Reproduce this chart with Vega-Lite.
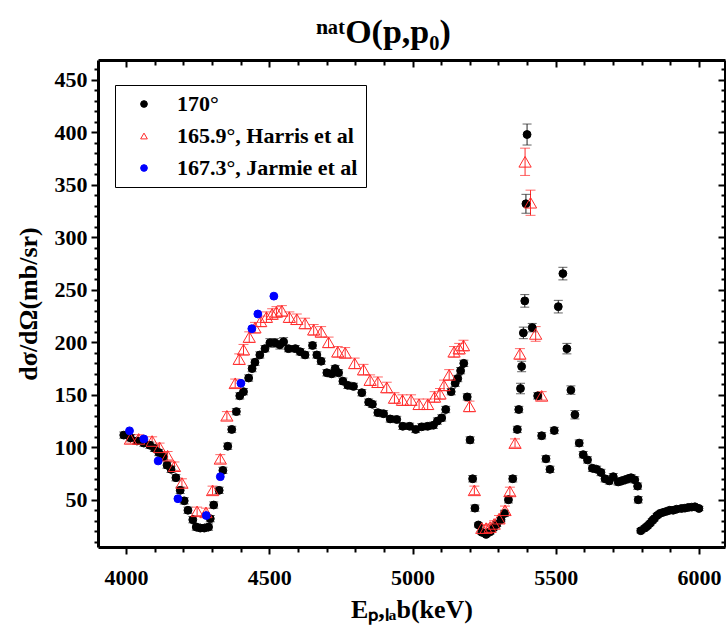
{
  "$schema": "https://vega.github.io/schema/vega-lite/v6.json",
  "width": 627,
  "height": 487,
  "padding": {"left": 15, "top": 16, "right": 2, "bottom": 10},
  "background": "white",
  "title": {"text": "ⁿᵃᵗO(p,p₀)", "font": "Liberation Serif", "fontSize": 34, "fontWeight": "bold", "color": "black", "anchor": "middle", "offset": 8, "dx": -28},
  "data": {"values": [
    {"s":"170°","E":3992,"sig":111.6,"err":3},
    {"s":"170°","E":4015,"sig":109,"err":3},
    {"s":"170°","E":4038,"sig":106,"err":3},
    {"s":"170°","E":4062,"sig":104,"err":3},
    {"s":"170°","E":4083,"sig":102,"err":3},
    {"s":"170°","E":4099,"sig":99,"err":3},
    {"s":"170°","E":4114,"sig":95,"err":3},
    {"s":"170°","E":4129,"sig":91,"err":3},
    {"s":"170°","E":4143,"sig":83,"err":3},
    {"s":"170°","E":4157,"sig":79,"err":3},
    {"s":"170°","E":4174,"sig":71,"err":3},
    {"s":"170°","E":4189,"sig":59,"err":3},
    {"s":"170°","E":4203,"sig":49,"err":3},
    {"s":"170°","E":4216,"sig":40,"err":3},
    {"s":"170°","E":4233,"sig":31,"err":3},
    {"s":"170°","E":4245,"sig":24,"err":3},
    {"s":"170°","E":4259,"sig":23,"err":3},
    {"s":"170°","E":4273,"sig":23,"err":3},
    {"s":"170°","E":4288,"sig":24,"err":3},
    {"s":"170°","E":4294,"sig":32,"err":3},
    {"s":"170°","E":4306,"sig":45,"err":3},
    {"s":"170°","E":4325,"sig":59,"err":3},
    {"s":"170°","E":4338,"sig":78,"err":3},
    {"s":"170°","E":4355,"sig":101,"err":3},
    {"s":"170°","E":4369,"sig":117,"err":3},
    {"s":"170°","E":4385,"sig":134,"err":3},
    {"s":"170°","E":4397,"sig":149,"err":3},
    {"s":"170°","E":4410,"sig":153,"err":3},
    {"s":"170°","E":4428,"sig":166,"err":3},
    {"s":"170°","E":4440,"sig":175,"err":3},
    {"s":"170°","E":4450,"sig":181,"err":3},
    {"s":"170°","E":4467,"sig":188,"err":3},
    {"s":"170°","E":4485,"sig":194,"err":3},
    {"s":"170°","E":4502,"sig":199.5,"err":4},
    {"s":"170°","E":4520,"sig":199.5,"err":4},
    {"s":"170°","E":4537,"sig":197.6,"err":4},
    {"s":"170°","E":4550,"sig":200.5,"err":4},
    {"s":"170°","E":4567,"sig":194,"err":3},
    {"s":"170°","E":4591,"sig":194,"err":3},
    {"s":"170°","E":4608,"sig":191,"err":3},
    {"s":"170°","E":4625,"sig":188,"err":3},
    {"s":"170°","E":4651,"sig":197,"err":3},
    {"s":"170°","E":4666,"sig":188,"err":3},
    {"s":"170°","E":4681,"sig":182,"err":3},
    {"s":"170°","E":4701,"sig":171,"err":3},
    {"s":"170°","E":4718,"sig":170,"err":3},
    {"s":"170°","E":4730,"sig":175,"err":3},
    {"s":"170°","E":4742,"sig":171,"err":3},
    {"s":"170°","E":4757,"sig":163,"err":3},
    {"s":"170°","E":4774,"sig":159,"err":3},
    {"s":"170°","E":4794,"sig":158,"err":3},
    {"s":"170°","E":4823,"sig":152,"err":3},
    {"s":"170°","E":4847,"sig":143,"err":3},
    {"s":"170°","E":4860,"sig":141,"err":3},
    {"s":"170°","E":4879,"sig":133,"err":3},
    {"s":"170°","E":4899,"sig":132,"err":3},
    {"s":"170°","E":4922,"sig":127,"err":3},
    {"s":"170°","E":4945,"sig":126.5,"err":3},
    {"s":"170°","E":4966,"sig":120,"err":3},
    {"s":"170°","E":4990,"sig":120,"err":3},
    {"s":"170°","E":5011,"sig":117,"err":3},
    {"s":"170°","E":5032,"sig":119.5,"err":3},
    {"s":"170°","E":5053,"sig":120,"err":3},
    {"s":"170°","E":5073,"sig":121,"err":3},
    {"s":"170°","E":5087,"sig":125,"err":3},
    {"s":"170°","E":5102,"sig":128,"err":3},
    {"s":"170°","E":5116,"sig":136,"err":3},
    {"s":"170°","E":5135,"sig":153,"err":3},
    {"s":"170°","E":5149,"sig":161,"err":3},
    {"s":"170°","E":5158,"sig":165.5,"err":3},
    {"s":"170°","E":5168,"sig":173,"err":3},
    {"s":"170°","E":5179,"sig":180,"err":3},
    {"s":"170°","E":5191,"sig":148,"err":3},
    {"s":"170°","E":5201,"sig":107,"err":3},
    {"s":"170°","E":5210,"sig":70,"err":3},
    {"s":"170°","E":5218,"sig":42,"err":3},
    {"s":"170°","E":5230,"sig":26,"err":2},
    {"s":"170°","E":5242,"sig":19,"err":2},
    {"s":"170°","E":5257,"sig":17,"err":2},
    {"s":"170°","E":5271,"sig":19.5,"err":2},
    {"s":"170°","E":5282,"sig":23,"err":2},
    {"s":"170°","E":5294,"sig":26.5,"err":2},
    {"s":"170°","E":5309,"sig":31,"err":2},
    {"s":"170°","E":5321,"sig":37,"err":3},
    {"s":"170°","E":5335,"sig":50,"err":3},
    {"s":"170°","E":5350,"sig":70,"err":3},
    {"s":"170°","E":5366,"sig":117,"err":3},
    {"s":"170°","E":5371,"sig":136,"err":3},
    {"s":"170°","E":5377,"sig":156,"err":5},
    {"s":"170°","E":5381,"sig":177,"err":5},
    {"s":"170°","E":5387,"sig":209,"err":5.5},
    {"s":"170°","E":5392,"sig":239.5,"err":6},
    {"s":"170°","E":5396,"sig":332,"err":9},
    {"s":"170°","E":5400,"sig":398,"err":10},
    {"s":"170°","E":5418,"sig":214,"err":4},
    {"s":"170°","E":5437,"sig":149,"err":3},
    {"s":"170°","E":5451,"sig":111,"err":3},
    {"s":"170°","E":5466,"sig":89,"err":3},
    {"s":"170°","E":5480,"sig":79,"err":3},
    {"s":"170°","E":5495,"sig":116,"err":3},
    {"s":"170°","E":5509,"sig":234,"err":6},
    {"s":"170°","E":5525,"sig":265.5,"err":6},
    {"s":"170°","E":5539,"sig":194,"err":5},
    {"s":"170°","E":5553,"sig":154.5,"err":4},
    {"s":"170°","E":5567,"sig":131,"err":4},
    {"s":"170°","E":5582,"sig":104,"err":3},
    {"s":"170°","E":5596,"sig":93,"err":3},
    {"s":"170°","E":5611,"sig":88,"err":3},
    {"s":"170°","E":5628,"sig":80,"err":3},
    {"s":"170°","E":5643,"sig":79,"err":3},
    {"s":"170°","E":5658,"sig":76,"err":3},
    {"s":"170°","E":5672,"sig":70,"err":3},
    {"s":"170°","E":5687,"sig":68,"err":3},
    {"s":"170°","E":5701,"sig":72,"err":3},
    {"s":"170°","E":5718,"sig":67,"err":3},
    {"s":"170°","E":5730,"sig":68,"err":3},
    {"s":"170°","E":5742,"sig":69,"err":3},
    {"s":"170°","E":5753,"sig":70,"err":3},
    {"s":"170°","E":5763,"sig":71,"err":3},
    {"s":"170°","E":5776,"sig":69,"err":3},
    {"s":"170°","E":5786,"sig":63,"err":3},
    {"s":"170°","E":5788,"sig":50,"err":3},
    {"s":"170°","E":5797,"sig":20.5,"err":2},
    {"s":"170°","E":5811,"sig":23,"err":2},
    {"s":"170°","E":5820,"sig":25,"err":2},
    {"s":"170°","E":5829,"sig":27.4,"err":2},
    {"s":"170°","E":5837,"sig":30,"err":2},
    {"s":"170°","E":5844,"sig":32,"err":2},
    {"s":"170°","E":5854,"sig":35,"err":2},
    {"s":"170°","E":5864,"sig":37,"err":2},
    {"s":"170°","E":5875,"sig":38,"err":2},
    {"s":"170°","E":5887,"sig":39,"err":2},
    {"s":"170°","E":5898,"sig":40,"err":2},
    {"s":"170°","E":5910,"sig":40,"err":2},
    {"s":"170°","E":5922,"sig":41,"err":2},
    {"s":"170°","E":5939,"sig":41.7,"err":2},
    {"s":"170°","E":5951,"sig":42,"err":2},
    {"s":"170°","E":5963,"sig":42.7,"err":2},
    {"s":"170°","E":5975,"sig":43,"err":2},
    {"s":"170°","E":5986,"sig":43.3,"err":2},
    {"s":"170°","E":6000,"sig":41.7,"err":2},
    {"s":"165.9°, Harris et al","E":4015,"sig":108,"err":4},
    {"s":"165.9°, Harris et al","E":4044,"sig":108,"err":4},
    {"s":"165.9°, Harris et al","E":4091,"sig":106,"err":4},
    {"s":"165.9°, Harris et al","E":4117,"sig":100,"err":4},
    {"s":"165.9°, Harris et al","E":4145,"sig":92,"err":4},
    {"s":"165.9°, Harris et al","E":4169,"sig":82,"err":4},
    {"s":"165.9°, Harris et al","E":4195,"sig":66,"err":4},
    {"s":"165.9°, Harris et al","E":4248,"sig":39,"err":4},
    {"s":"165.9°, Harris et al","E":4279,"sig":38,"err":4},
    {"s":"165.9°, Harris et al","E":4302,"sig":59,"err":4},
    {"s":"165.9°, Harris et al","E":4329,"sig":89,"err":4},
    {"s":"165.9°, Harris et al","E":4352,"sig":130,"err":4},
    {"s":"165.9°, Harris et al","E":4381,"sig":161,"err":4},
    {"s":"165.9°, Harris et al","E":4395,"sig":184,"err":5},
    {"s":"165.9°, Harris et al","E":4410,"sig":193,"err":5},
    {"s":"165.9°, Harris et al","E":4430,"sig":205,"err":5},
    {"s":"165.9°, Harris et al","E":4450,"sig":214,"err":5},
    {"s":"165.9°, Harris et al","E":4470,"sig":220,"err":5},
    {"s":"165.9°, Harris et al","E":4490,"sig":224,"err":5},
    {"s":"165.9°, Harris et al","E":4510,"sig":227,"err":5},
    {"s":"165.9°, Harris et al","E":4525,"sig":229,"err":5},
    {"s":"165.9°, Harris et al","E":4544,"sig":230,"err":5},
    {"s":"165.9°, Harris et al","E":4570,"sig":224,"err":5},
    {"s":"165.9°, Harris et al","E":4596,"sig":222,"err":5},
    {"s":"165.9°, Harris et al","E":4625,"sig":218,"err":5},
    {"s":"165.9°, Harris et al","E":4655,"sig":212,"err":5},
    {"s":"165.9°, Harris et al","E":4681,"sig":210,"err":5},
    {"s":"165.9°, Harris et al","E":4707,"sig":200,"err":5},
    {"s":"165.9°, Harris et al","E":4739,"sig":191,"err":5},
    {"s":"165.9°, Harris et al","E":4765,"sig":190,"err":5},
    {"s":"165.9°, Harris et al","E":4798,"sig":180,"err":5},
    {"s":"165.9°, Harris et al","E":4829,"sig":174,"err":5},
    {"s":"165.9°, Harris et al","E":4852,"sig":164,"err":5},
    {"s":"165.9°, Harris et al","E":4879,"sig":162,"err":5},
    {"s":"165.9°, Harris et al","E":4910,"sig":157,"err":5},
    {"s":"165.9°, Harris et al","E":4937,"sig":147,"err":5},
    {"s":"165.9°, Harris et al","E":4965,"sig":145,"err":5},
    {"s":"165.9°, Harris et al","E":4995,"sig":145,"err":5},
    {"s":"165.9°, Harris et al","E":5023,"sig":141,"err":5},
    {"s":"165.9°, Harris et al","E":5053,"sig":141,"err":5},
    {"s":"165.9°, Harris et al","E":5077,"sig":148,"err":5},
    {"s":"165.9°, Harris et al","E":5096,"sig":151,"err":5},
    {"s":"165.9°, Harris et al","E":5110,"sig":159,"err":5},
    {"s":"165.9°, Harris et al","E":5128,"sig":169,"err":5},
    {"s":"165.9°, Harris et al","E":5145,"sig":191,"err":5},
    {"s":"165.9°, Harris et al","E":5163,"sig":194,"err":5},
    {"s":"165.9°, Harris et al","E":5178,"sig":197,"err":5},
    {"s":"165.9°, Harris et al","E":5199,"sig":139,"err":5},
    {"s":"165.9°, Harris et al","E":5216,"sig":59,"err":4},
    {"s":"165.9°, Harris et al","E":5242,"sig":23,"err":3},
    {"s":"165.9°, Harris et al","E":5257,"sig":23,"err":3},
    {"s":"165.9°, Harris et al","E":5271,"sig":24,"err":3},
    {"s":"165.9°, Harris et al","E":5285,"sig":27,"err":3},
    {"s":"165.9°, Harris et al","E":5302,"sig":32,"err":3},
    {"s":"165.9°, Harris et al","E":5323,"sig":40,"err":4},
    {"s":"165.9°, Harris et al","E":5340,"sig":58,"err":4},
    {"s":"165.9°, Harris et al","E":5358,"sig":104,"err":4},
    {"s":"165.9°, Harris et al","E":5375,"sig":189,"err":5},
    {"s":"165.9°, Harris et al","E":5393,"sig":372,"err":13},
    {"s":"165.9°, Harris et al","E":5412,"sig":333,"err":12},
    {"s":"165.9°, Harris et al","E":5430,"sig":208,"err":7},
    {"s":"165.9°, Harris et al","E":5451,"sig":149,"err":4},
    {"s":"167.3°, Jarmie et al","E":4012,"sig":115.7,"err":0},
    {"s":"167.3°, Jarmie et al","E":4062,"sig":108,"err":0},
    {"s":"167.3°, Jarmie et al","E":4112,"sig":87,"err":0},
    {"s":"167.3°, Jarmie et al","E":4181,"sig":51,"err":0},
    {"s":"167.3°, Jarmie et al","E":4280,"sig":35,"err":0},
    {"s":"167.3°, Jarmie et al","E":4329,"sig":72,"err":0},
    {"s":"167.3°, Jarmie et al","E":4401,"sig":161,"err":0},
    {"s":"167.3°, Jarmie et al","E":4439,"sig":213,"err":0},
    {"s":"167.3°, Jarmie et al","E":4460,"sig":227,"err":0},
    {"s":"167.3°, Jarmie et al","E":4516,"sig":244,"err":0}
  ]},
  "layer": [
    {
      "mark": {"type": "point", "opacity": 0},
      "encoding": {
        "x": {"field": "E", "type": "quantitative", "scale": {"domain": [3902, 6091], "nice": false, "zero": false},
          "axis": {"orient": "top", "title": null, "labels": false, "values": [4000,4100,4200,4300,4400,4500,4600,4700,4800,4900,5000,5100,5200,5300,5400,5500,5600,5700,5800,5900,6000],
            "tickSize": {"condition": {"test": "datum.value % 500 === 0", "value": -7}, "value": -5}}},
        "y": {"field": "sig", "type": "quantitative", "scale": {"domain": [5, 469], "nice": false, "zero": false},
          "axis": {"orient": "right", "title": null, "labels": false, "values": [10,20,30,40,50,60,70,80,90,100,110,120,130,140,150,160,170,180,190,200,210,220,230,240,250,260,270,280,290,300,310,320,330,340,350,360,370,380,390,400,410,420,430,440,450,460],
            "tickSize": {"condition": {"test": "datum.value % 50 === 0", "value": -7}, "value": -4}}}
      }
    },
    {
      "transform": [{"filter": "datum.s === '165.9°, Harris et al'"}],
      "mark": {"type": "errorbar", "ticks": {"size": 10}, "color": "#ff2a2a", "thickness": 1},
      "encoding": {
        "x": {"field": "E", "type": "quantitative", "scale": {"domain": [3902, 6091], "nice": false, "zero": false}, "axis": null},
        "y": {"field": "sig", "type": "quantitative", "scale": {"domain": [5, 469], "nice": false, "zero": false}, "axis": null},
        "yError": {"field": "err"}
      }
    },
    {
      "transform": [{"filter": "datum.s === '170°'"}],
      "mark": {"type": "errorbar", "ticks": {"size": 9}, "color": "#222222", "thickness": 1},
      "encoding": {
        "x": {"field": "E", "type": "quantitative", "scale": {"domain": [3902, 6091], "nice": false, "zero": false}, "axis": null},
        "y": {"field": "sig", "type": "quantitative", "scale": {"domain": [5, 469], "nice": false, "zero": false}, "axis": null},
        "yError": {"field": "err"}
      }
    },
    {
      "transform": [{"filter": "datum.s === '170°'"}],
      "mark": {"type": "point", "strokeWidth": 1, "size": 62, "opacity": 1, "filled": false},
      "encoding": {
        "x": {"field": "E", "type": "quantitative", "scale": {"domain": [3902, 6091], "nice": false, "zero": false},
          "axis": {"orient": "bottom", "title": "Eₚ,ₗₐb(keV)", "format": "d", "values": [4000,4100,4200,4300,4400,4500,4600,4700,4800,4900,5000,5100,5200,5300,5400,5500,5600,5700,5800,5900,6000],
            "labelExpr": "datum.value % 500 === 0 ? datum.label : ''",
            "labelFont": "Liberation Serif", "titleFont": "Liberation Serif",
            "tickSize": {"condition": {"test": "datum.value % 500 === 0", "value": 7}, "value": 5}, "labelPadding": 13, "titlePadding": 8}},
        "y": {"field": "sig", "type": "quantitative", "scale": {"domain": [5, 469], "nice": false, "zero": false},
          "axis": {"orient": "left", "title": "dσ/dΩ(mb/sr)", "format": "d", "values": [10,20,30,40,50,60,70,80,90,100,110,120,130,140,150,160,170,180,190,200,210,220,230,240,250,260,270,280,290,300,310,320,330,340,350,360,370,380,390,400,410,420,430,440,450,460],
            "labelExpr": "datum.value % 50 === 0 ? datum.label : ''",
            "labelFont": "Liberation Serif", "titleFont": "Liberation Serif",
            "tickSize": {"condition": {"test": "datum.value % 50 === 0", "value": 7}, "value": 4}, "labelPadding": 4, "titlePadding": 13}},
        "fill": {"field": "s", "type": "nominal", "scale": {"domain": ["170°", "165.9°, Harris et al", "167.3°, Jarmie et al"], "range": ["black", "transparent", "blue"]}, "legend": {"title": null}},
        "stroke": {"field": "s", "type": "nominal", "scale": {"domain": ["170°", "165.9°, Harris et al", "167.3°, Jarmie et al"], "range": ["black", "#ff2a2a", "blue"]}, "legend": {"title": null}},
        "shape": {"field": "s", "type": "nominal", "scale": {"domain": ["170°", "165.9°, Harris et al", "167.3°, Jarmie et al"], "range": ["circle", "triangle-up", "circle"]}, "legend": {"title": null}}
      }
    },
    {
      "transform": [{"filter": "datum.s === '165.9°, Harris et al'"}],
      "mark": {"type": "point", "strokeWidth": 1, "size": 150, "opacity": 1, "filled": false},
      "encoding": {
        "x": {"field": "E", "type": "quantitative", "scale": {"domain": [3902, 6091], "nice": false, "zero": false}, "axis": null},
        "y": {"field": "sig", "type": "quantitative", "scale": {"domain": [5, 469], "nice": false, "zero": false}, "axis": null},
        "fill": {"field": "s", "type": "nominal", "scale": {"domain": ["170°", "165.9°, Harris et al", "167.3°, Jarmie et al"], "range": ["black", "transparent", "blue"]}, "legend": {"title": null}},
        "stroke": {"field": "s", "type": "nominal", "scale": {"domain": ["170°", "165.9°, Harris et al", "167.3°, Jarmie et al"], "range": ["black", "#ff2a2a", "blue"]}, "legend": {"title": null}},
        "shape": {"field": "s", "type": "nominal", "scale": {"domain": ["170°", "165.9°, Harris et al", "167.3°, Jarmie et al"], "range": ["circle", "triangle-up", "circle"]}, "legend": {"title": null}}
      }
    },
    {
      "transform": [{"filter": "datum.s === '167.3°, Jarmie et al'"}],
      "mark": {"type": "point", "strokeWidth": 1, "size": 62, "opacity": 1, "filled": false},
      "encoding": {
        "x": {"field": "E", "type": "quantitative", "scale": {"domain": [3902, 6091], "nice": false, "zero": false}, "axis": null},
        "y": {"field": "sig", "type": "quantitative", "scale": {"domain": [5, 469], "nice": false, "zero": false}, "axis": null},
        "fill": {"field": "s", "type": "nominal", "scale": {"domain": ["170°", "165.9°, Harris et al", "167.3°, Jarmie et al"], "range": ["black", "transparent", "blue"]}, "legend": {"title": null}},
        "stroke": {"field": "s", "type": "nominal", "scale": {"domain": ["170°", "165.9°, Harris et al", "167.3°, Jarmie et al"], "range": ["black", "#ff2a2a", "blue"]}, "legend": {"title": null}},
        "shape": {"field": "s", "type": "nominal", "scale": {"domain": ["170°", "165.9°, Harris et al", "167.3°, Jarmie et al"], "range": ["circle", "triangle-up", "circle"]}, "legend": {"title": null}}
      }
    }
  ],
  "resolve": {"axis": {"x": "independent", "y": "independent"}},
  "config": {
    "font": "Liberation Serif",
    "view": {"stroke": null},
    "axis": {
      "grid": false,
      "domainColor": "black", "domainWidth": 3,
      "tickColor": "black", "tickWidth": 2,
      "labelFont": "Liberation Serif", "labelFontSize": 22, "labelFontWeight": "bold", "labelColor": "black",
      "titleFont": "Liberation Serif", "titleFontSize": 26, "titleFontWeight": "bold", "titleColor": "black",
      "labelOverlap": false
    },
    "legend": {
      "orient": "none", "legendX": 17, "legendY": 25,
      "strokeColor": "black", "fillColor": "white", "strokeWidth": 1,
      "padding": 8, "symbolOffset": 10, "labelOffset": 22, "rowPadding": 10,
      "symbolSize": 45, "symbolStrokeWidth": 1,
      "labelFont": "Liberation Serif", "labelFontSize": 22, "labelFontWeight": "bold", "labelColor": "black", "labelLimit": 400
    }
  }
}
